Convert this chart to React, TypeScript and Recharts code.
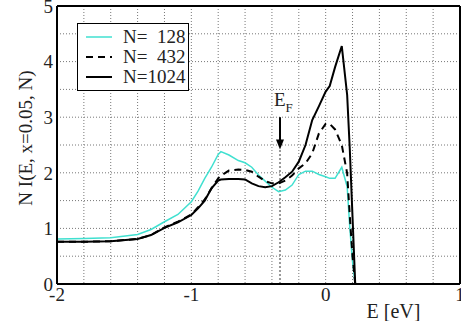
import React from 'react';
import { LineChart, Line, XAxis, YAxis, CartesianGrid, ReferenceLine, Legend } from 'recharts';

const FONT = 'Liberation Serif, serif';

// energy grid [eV]
const energy = [
  -2, -1.8, -1.6, -1.4, -1.3, -1.2, -1.1, -1.0, -0.95, -0.9, -0.85, -0.8, -0.78, -0.72, -0.65, -0.6,
  -0.55, -0.5, -0.45, -0.4, -0.35, -0.3, -0.25, -0.2, -0.15, -0.1, -0.05, 0, 0.03, 0.07, 0.12, 0.16,
  0.18, 0.2, 0.22, 0.5, 1.0,
];

const n128 = [
  0.81, 0.82, 0.83, 0.89, 0.98, 1.12, 1.25, 1.48, 1.67, 1.9, 2.1, 2.33, 2.38, 2.32, 2.22, 2.18,
  2.1, 1.96, 1.85, 1.74, 1.66, 1.69, 1.78, 1.97, 2.03, 2.03, 1.97, 1.93, 1.9, 1.9, 2.1, 1.75,
  1.0, 0.4, 0, 0, 0,
];

const n432 = [
  0.76, 0.76, 0.77, 0.81, 0.88, 1.02, 1.12, 1.25, 1.38, 1.52, 1.72, 1.9, 1.95, 2.04, 2.06, 2.05,
  2.02, 1.93, 1.85, 1.81, 1.81, 1.86, 1.95, 2.08, 2.17, 2.35, 2.71, 2.88, 2.88, 2.78, 2.5, 1.99,
  1.21, 0.5, 0, 0, 0,
];

const n1024 = [
  0.76, 0.76, 0.77, 0.81, 0.88, 1.01, 1.11, 1.24, 1.36, 1.5, 1.72, 1.86, 1.88, 1.89, 1.89, 1.88,
  1.81, 1.76, 1.74, 1.76, 1.83, 1.92, 2.02, 2.2, 2.5, 2.95, 3.2, 3.46, 3.56, 3.9, 4.28, 3.4,
  2.4, 1.2, 0, 0, 0,
];

const xTicks = [-2, -1, 0, 1];
const yTicks = [0, 1, 2, 3, 4, 5];
const xGrid = [-1.8, -1.6, -1.4, -1.2, -1.0, -0.8, -0.6, -0.4, -0.2, 0, 0.2, 0.4, 0.6, 0.8];
const yGrid = [0.5, 1, 1.5, 2, 2.5, 3, 3.5, 4, 4.5];

const E_FERMI = -0.34;

const data = energy.map((e, i) => ({ e, n128: n128[i], n432: n432[i], n1024: n1024[i] }));

const SERIES = [
  { key: 'n128', name: 'N=  128', color: '#40e0d0', width: 1.5, dash: undefined },
  { key: 'n432', name: 'N=  432', color: '#000', width: 2, dash: '7 5' },
  { key: 'n1024', name: 'N=1024', color: '#000', width: 2, dash: undefined },
];

function LegendBox() {
  return (
    <div
      style={{
        background: '#fff',
        border: '1.5px solid #000',
        width: 110,
        height: 63,
        paddingTop: 3,
        boxSizing: 'content-box',
        fontFamily: FONT,
        fontSize: 19,
        color: '#222',
      }}
    >
      {SERIES.map((s) => (
        <div key={s.key} style={{ display: 'flex', alignItems: 'center', height: 20, paddingLeft: 8 }}>
          <svg width={26} height={4}>
            <line x1={0} y1={2} x2={26} y2={2} stroke={s.color} strokeWidth={s.width} strokeDasharray={s.dash} />
          </svg>
          <span style={{ marginLeft: 11, whiteSpace: 'pre', lineHeight: '20px', fontFamily: FONT }}>{s.name}</span>
        </div>
      ))}
    </div>
  );
}

// arrow pointing at the Fermi level, with its label
function FermiArrow(props: any) {
  const { x1, y1, x2, y2 } = props;
  return (
    <g>
      <line x1={x1} y1={y1} x2={x2} y2={y2 - 8} stroke="#000" strokeWidth={2} />
      <polygon points={`${x2 - 4},${y2 - 10} ${x2 + 4},${y2 - 10} ${x2},${y2}`} fill="#000" />
      <text x={x1 - 6} y={y1 - 11} fontFamily={FONT} fontSize={19} fill="#222">
        E<tspan dy={6} fontSize={13}>F</tspan>
      </text>
    </g>
  );
}

export default function App() {
  return (
    <div style={{ position: 'absolute', left: 0, top: 0, fontFamily: FONT }}>
      <LineChart width={461} height={321} data={data} margin={{ top: 6, right: 1, bottom: 0, left: 0 }}>
        <CartesianGrid
          stroke="#777"
          strokeDasharray="1 2"
          verticalValues={xGrid}
          horizontalValues={yGrid}
        />
        <XAxis
          type="number"
          dataKey="e"
          domain={[-2, 1]}
          ticks={xTicks}
          interval={0}
          height={37}
          tickSize={0}
          tickMargin={4}
          axisLine={{ stroke: '#000', strokeWidth: 2 }}
          tick={{ fill: '#222', fontSize: 19, fontFamily: FONT }}
          label={{ value: 'E [eV]', position: 'insideBottom', dx: 135, offset: 3, fill: '#222', fontSize: 20, fontFamily: FONT }}
        />
        <YAxis
          type="number"
          domain={[0, 5]}
          ticks={yTicks}
          interval={0}
          width={57}
          tickSize={0}
          tickMargin={4}
          axisLine={{ stroke: '#000', strokeWidth: 2 }}
          tick={{ fill: '#222', fontSize: 19, fontFamily: FONT }}
          label={{ value: 'N I(E, x=0.05, N)', angle: -90, position: 'center', dx: -3, dy: -7, fill: '#222', fontSize: 19, fontFamily: FONT }}
        />
        <ReferenceLine y={5} stroke="#000" strokeWidth={2} />
        <ReferenceLine x={1} stroke="#000" strokeWidth={2} />
        <ReferenceLine
          segment={[{ x: E_FERMI, y: 0 }, { x: E_FERMI, y: 2.42 }]}
          stroke="#999"
          strokeWidth={2}
          strokeDasharray="2 2"
        />
        <ReferenceLine segment={[{ x: E_FERMI, y: 3.0 }, { x: E_FERMI, y: 2.42 }]} shape={FermiArrow} />
        {SERIES.map((s) => (
          <Line
            key={s.key}
            type="linear"
            dataKey={s.key}
            name={s.name}
            stroke={s.color}
            strokeWidth={s.width}
            strokeDasharray={s.dash}
            dot={false}
            isAnimationActive={false}
          />
        ))}
        <Legend
          layout="vertical"
          align="center"
          verticalAlign="middle"
          content={() => <LegendBox />}
          wrapperStyle={{ left: 77, top: 23, width: 'auto', height: 'auto' }}
        />
      </LineChart>
    </div>
  );
}
